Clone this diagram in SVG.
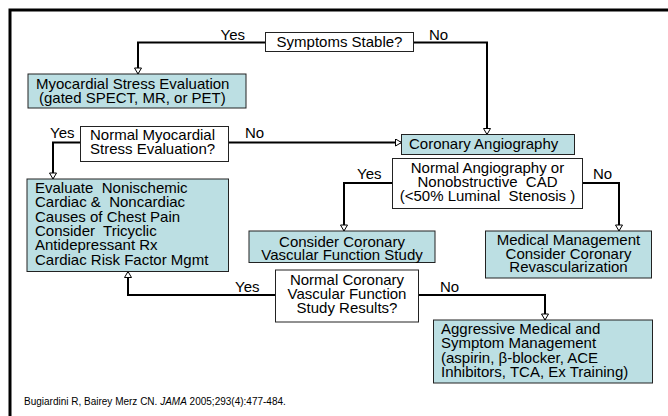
<svg xmlns="http://www.w3.org/2000/svg" width="668" height="416" viewBox="0 0 668 416">
<style>
text{font-family:"Liberation Sans",Arial,sans-serif;font-size:15px;fill:#000}
.c{text-anchor:middle}
.box{fill:#bcdfe3;stroke:#222;stroke-width:1}
.q{fill:#fff;stroke:#222;stroke-width:1}
.ln{fill:none;stroke:#000;stroke-width:2}
.cite{font-size:10px}
</style>
<defs>
<marker id="ah" markerUnits="userSpaceOnUse" markerWidth="8" markerHeight="8" viewBox="0 0 7 8" refX="6.5" refY="4" orient="auto">
<path d="M0.5,0.5 L6.5,4 L0.5,7.5 z" fill="#fff" stroke="#000" stroke-width="1"/>
</marker>
</defs>
<rect width="668" height="416" fill="#fff"/>
<path d="M10,416 V10 H668" fill="none" stroke="#000" stroke-width="3"/>
<g id="connectors">
<path class="ln" d="M265,42.5 H138 V74" marker-end="url(#ah)"/>
<path class="ln" d="M413,42.5 H487 V134.5" marker-end="url(#ah)"/>
<path class="ln" d="M80,142.5 H53 V179" marker-end="url(#ah)"/>
<path class="ln" d="M229,142.5 H401.5" marker-end="url(#ah)"/>
<path class="ln" d="M392,183 H344 V231" marker-end="url(#ah)"/>
<path class="ln" d="M582,183 H619 V231" marker-end="url(#ah)"/>
<path class="ln" d="M275,295 H128 V271.5" marker-end="url(#ah)"/>
<path class="ln" d="M419,295 H545 V320" marker-end="url(#ah)"/>
<text x="220.5" y="40">Yes</text>
<text x="429" y="40">No</text>
<text x="50" y="138">Yes</text>
<text x="245" y="138">No</text>
<text x="357" y="179">Yes</text>
<text x="593" y="179">No</text>
<text x="235" y="292">Yes</text>
<text x="440" y="292">No</text>
</g>
<g id="symptoms">
<rect class="q" x="265.5" y="32.5" width="148" height="19"/>
<text class="c" x="339.5" y="47">Symptoms Stable?</text>
</g>
<g id="myocardial">
<rect class="box" x="28" y="74" width="218" height="34"/>
<text x="36" y="89">Myocardial Stress Evaluation</text>
<text x="39" y="103">(gated SPECT, MR, or PET)</text>
</g>
<g id="normal-myocardial">
<rect class="q" x="80.5" y="126.5" width="148" height="35"/>
<text x="90" y="140">Normal Myocardial</text>
<text x="90" y="154">Stress Evaluation?</text>
</g>
<g id="angiography">
<rect class="box" x="401.5" y="134.5" width="173" height="20"/>
<text x="409" y="149">Coronary Angiography</text>
</g>
<g id="normal-angiography">
<rect class="q" x="392.5" y="158.5" width="190" height="50"/>
<text class="c" x="487.5" y="173">Normal Angiography or</text>
<text class="c" x="487.5" y="187" xml:space="preserve">Nonobstructive  CAD</text>
<text class="c" x="487.5" y="201" xml:space="preserve">(&lt;50% Luminal  Stenosis )</text>
</g>
<g id="evaluate">
<rect class="box" x="27" y="179" width="201.5" height="92.5"/>
<text x="35" y="193" xml:space="preserve">Evaluate  Nonischemic</text>
<text x="35" y="207.3" xml:space="preserve">Cardiac &amp;  Noncardiac</text>
<text x="35" y="221.6">Causes of Chest Pain</text>
<text x="35" y="235.9" xml:space="preserve">Consider  Tricyclic</text>
<text x="35" y="250.2">Antidepressant Rx</text>
<text x="35" y="264.5">Cardiac Risk Factor Mgmt</text>
</g>
<g id="consider">
<rect class="box" x="249" y="231" width="186" height="31.5"/>
<text class="c" x="342" y="246.5">Consider Coronary</text>
<text class="c" x="342" y="259.5">Vascular Function Study</text>
</g>
<g id="medical">
<rect class="box" x="485.5" y="231" width="166" height="47"/>
<text class="c" x="568.5" y="245">Medical Management</text>
<text class="c" x="568.5" y="258.5">Consider Coronary</text>
<text class="c" x="568.5" y="272">Revascularization</text>
</g>
<g id="normal-coronary">
<rect class="q" x="275.5" y="270" width="143" height="52"/>
<text class="c" x="347" y="285">Normal Coronary</text>
<text class="c" x="347" y="299">Vascular Function</text>
<text class="c" x="347" y="313">Study Results?</text>
</g>
<g id="aggressive">
<rect class="box" x="433.5" y="320" width="219" height="63"/>
<text x="441" y="334">Aggressive Medical and</text>
<text x="441" y="348.3">Symptom Management</text>
<text x="441" y="362.6">(aspirin, β-blocker, ACE</text>
<text x="441" y="376.9">Inhibitors, TCA, Ex Training)</text>
</g>
<text class="cite" x="24" y="405">Bugiardini R, Bairey Merz CN. <tspan font-style="italic">JAMA</tspan> 2005;293(4):477-484.</text>
</svg>
